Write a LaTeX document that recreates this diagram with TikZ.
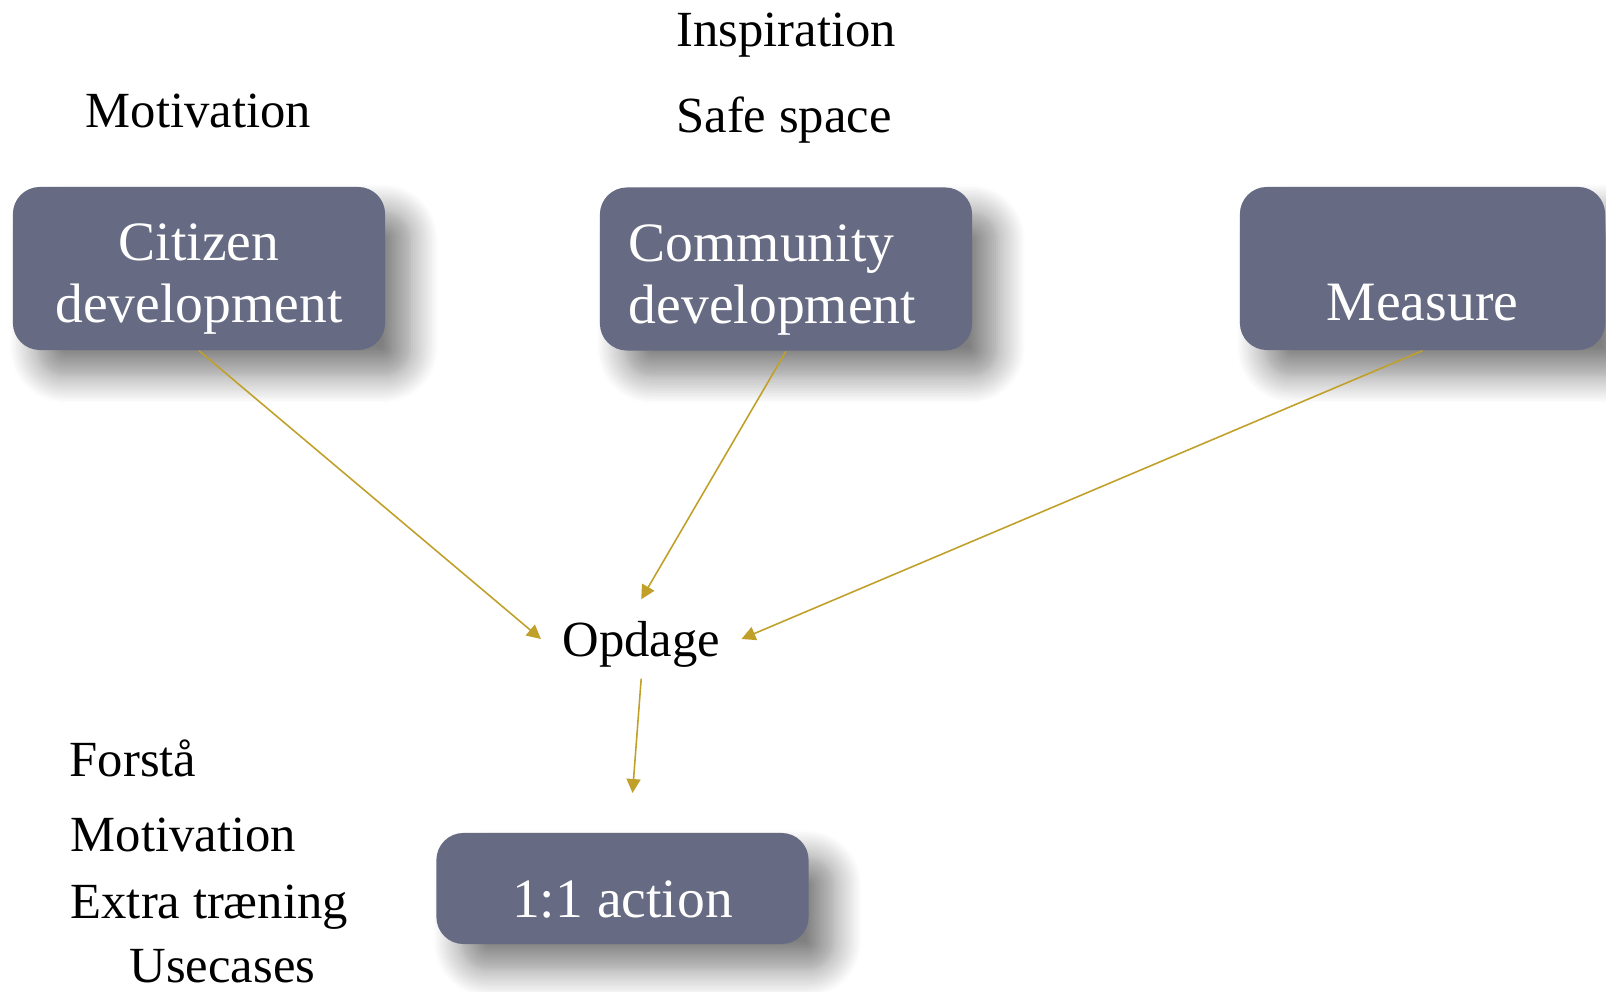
\documentclass[tikz,border=0pt]{standalone}
\usepackage{fontspec}
\setmainfont{Liberation Serif}
\usetikzlibrary{arrows.meta, shadows.blur}
\definecolor{slate}{RGB}{102,106,130}
\definecolor{gold}{RGB}{193,160,42}

\begin{document}
\begin{tikzpicture}[x=0.01cm, y=-0.01cm,
    box/.style={rectangle, rounded corners=0.27cm, fill=slate, text=white,
        minimum width=3.72cm, minimum height=1.63cm, inner sep=0pt,
        font=\fontsize{15.8}{17.6}\selectfont,
        blur shadow={shadow xshift=0.25cm, shadow yshift=-0.25cm,
            shadow blur radius=0.28cm, shadow blur steps=14, shadow opacity=50}},
    word/.style={anchor=base west, inner sep=0pt, font=\fontsize{14.4}{17}\selectfont},
    link/.style={-{Triangle[length=1.4mm, width=1.4mm]}, gold, line width=0.45pt}]
\useasboundingbox (0,0) rectangle (1606,992);

% Boxes
\node[box, align=center] (citizen-node) at (199, 268.5) {\rule{0pt}{0.58cm}Citizen\\development};
\node[box, align=left, text width=3.14cm] (community-node) at (786, 269) {\rule{0pt}{0.58cm}Community\\development};
\node[box, align=center, minimum width=3.65cm] (measure-node) at (1422.5, 268.5) {\strut\\Measure};
\node[box, minimum height=1.11cm, text height=0.58cm, text depth=0cm] (action-node) at (622.5, 888.5) {1:1 action};

% Middle
\node[font=\fontsize{14.4}{17}\selectfont, minimum width=1.99cm, minimum height=0.78cm, inner sep=0pt,
    text height=0.34cm, text depth=0cm] (opdage-node) at (641.2, 639) {Opdage};
\coordinate (action-top) at (632.5, 793);

% Texts
\node[word] (inspiration) at (675.7, 46.7) {Inspiration};
\node[word] (safe) at (675.7, 132.7) {Safe space};
\node[word] (motivation-top) at (85, 128) {Motivation};
\node[word] (forstaa) at (69, 777) {Forstå};
\node[word] (motivation-low) at (70, 852) {Motivation};
\node[word] (training) at (70, 918.5) {Extra træning};
\node[word] (usecases) at (129, 983) {Usecases};

% Arrows
\draw[link] (citizen-node.south) -- (opdage-node.west);
\draw[link] (community-node.south) -- (opdage-node.north);
\draw[link] (measure-node.south) -- (opdage-node.east);
\draw[link] (opdage-node.south) -- (action-top);
\end{tikzpicture}
\end{document}
